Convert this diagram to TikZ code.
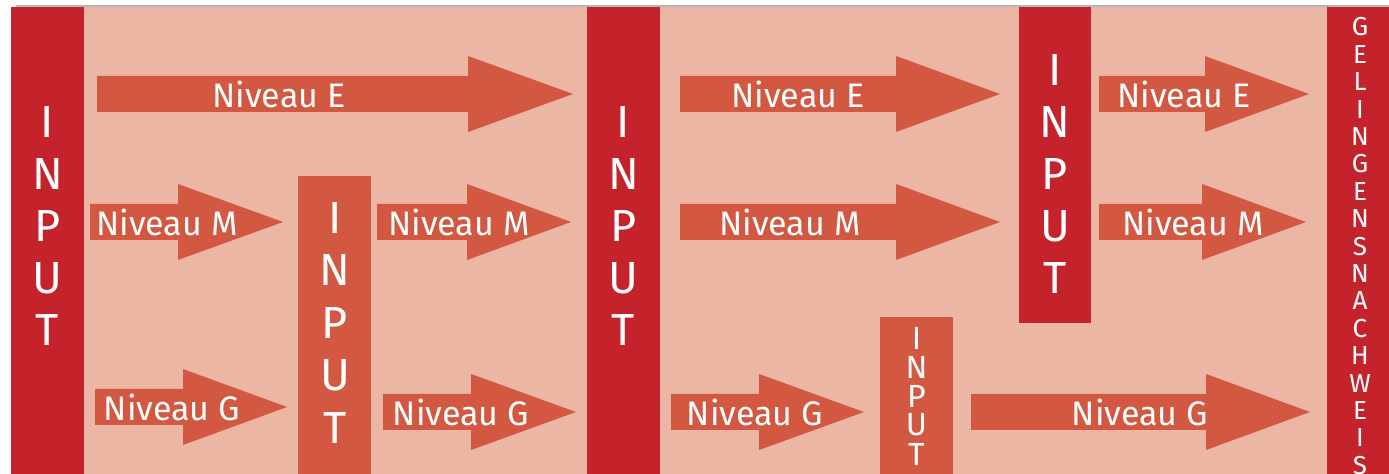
\documentclass[tikz,border=0pt]{standalone}
\usepackage{fontspec}
\setmainfont{Fira Sans}
\definecolor{darkr}{HTML}{C5232B}
\definecolor{peach}{HTML}{EBB7A4}
\definecolor{orng}{HTML}{D25842}
\definecolor{grayl}{HTML}{B4B4B4}
\newcommand{\myarrow}[4]{\fill[orng] (#1,#4-18) -- (#2,#4-18) -- (#2,#4-38) -- (#3,#4) -- (#2,#4+38) -- (#2,#4+18) -- (#1,#4+18) -- cycle;}
\begin{document}
\begin{tikzpicture}[x=0.5pt,y=-0.5pt,
  lbl/.style={text=white, inner sep=0pt, font=\fontsize{17}{20}\selectfont},
  bigl/.style={text=white, inner sep=0pt, font=\fontsize{22.5}{26}\selectfont},
  smalll/.style={text=white, inner sep=0pt, font=\fontsize{16}{18}\selectfont},
  tinyl/.style={text=white, inner sep=0pt, font=\fontsize{13}{14}\selectfont},
  darkbar/.style={fill=darkr, draw=none},
  obar/.style={fill=orng, draw=none}]
\useasboundingbox (0,0) rectangle (1389,474);
% background
\fill[peach] (11,7) rectangle (1389,474);
\fill[grayl] (16,5) rectangle (1389,7);
% bars
\fill[darkbar] (11,7) rectangle (84,474);
\fill[darkbar] (587,7) rectangle (660,474);
\fill[obar] (298,176) rectangle (371,474);
\fill[darkbar] (1019,7) rectangle (1091,323);
\fill[obar] (880,317) rectangle (953,474);
\fill[darkbar] (1327,7) rectangle (1389,474);
% arrows
\myarrow{97}{468}{573}{94}
\myarrow{680}{896}{1000}{94}
\myarrow{1099}{1205}{1309}{94}
\myarrow{90}{178}{283}{222}
\myarrow{377}{467}{571}{222}
\myarrow{680}{896}{1000}{222}
\myarrow{1099}{1202}{1306}{222}
\myarrow{95}{183}{287}{407}
\myarrow{383}{471}{576}{412}
\myarrow{671}{759}{864}{412}
\myarrow{971}{1206}{1310}{412}
% arrow labels
\node[lbl] (e1) at (279,94) {Niveau E};
\node[lbl] (e2) at (798,94) {Niveau E};
\node[lbl] (e3) at (1184,94) {Niveau E};
\node[lbl] (m1) at (167,222) {Niveau M};
\node[lbl] (m2) at (459,222) {Niveau M};
\node[lbl] (m3) at (790,222) {Niveau M};
\node[lbl] (m4) at (1193,222) {Niveau M};
\node[lbl] (g1) at (172,407) {Niveau G};
\node[lbl] (g2) at (461,412) {Niveau G};
\node[lbl] (g3) at (755,412) {Niveau G};
\node[lbl] (g4) at (1140,412) {Niveau G};
% INPUT letters
\foreach \l [count=\i from 0] in {I,N,P,U,T} {
  \node[bigl] (ia\i) at (47.5,122+52*\i) {\l};
  \node[bigl] (ib\i) at (623.5,122+52*\i) {\l};
  \node[bigl] (ic\i) at (335,218+52.5*\i) {\l};
  \node[bigl] (id\i) at (1055,70+52*\i) {\l};
  \node[smalll] (ie\i) at (916.5,338+29*\i) {\l};
}
\foreach \l [count=\i from 0] in {G,E,L,I,N,G,E,N,S,N,A,C,H,W,E,I,S} {
  \node[tinyl] (gn\i) at (1360,27+27.4*\i) {\l};
}
\end{tikzpicture}
\end{document}
